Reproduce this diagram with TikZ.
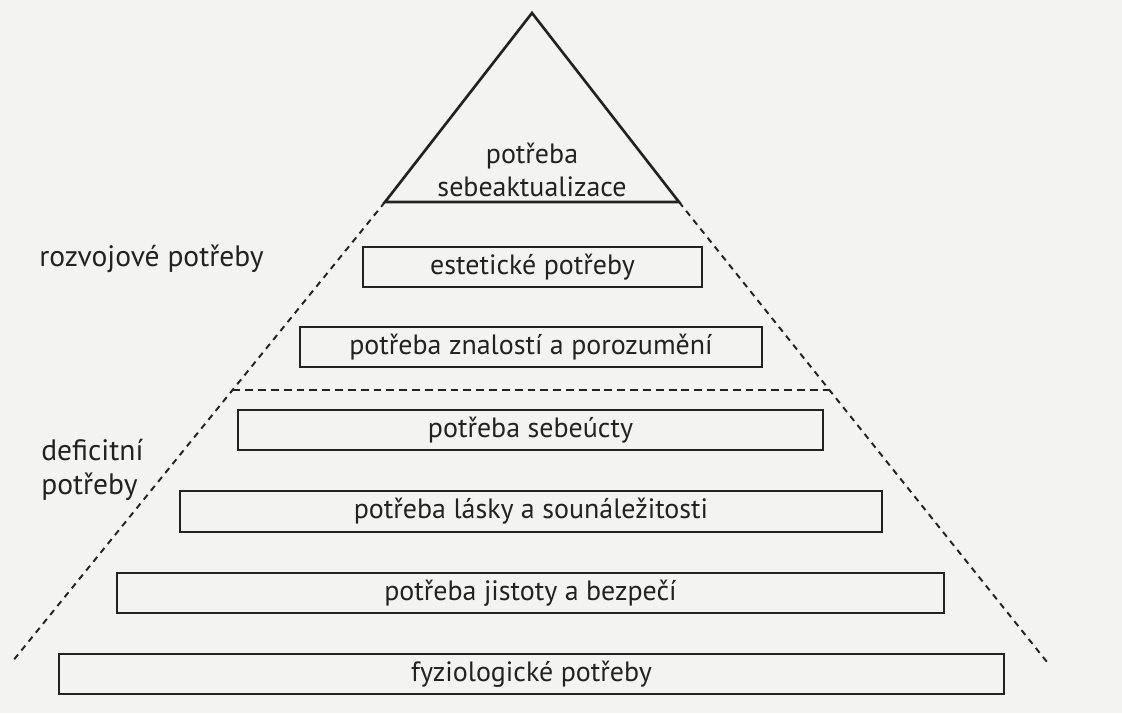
\documentclass[tikz,border=0pt]{standalone}
\usepackage{fontspec}
\setmainfont{PT Sans}
\usepackage{xcolor}
\usepackage{tikz}
\usetikzlibrary{calc}
\definecolor{paper}{HTML}{F3F3F1}
\definecolor{ink}{HTML}{222222}
\newcommand{\needfont}{\fontsize{15.9}{19}\selectfont}
\newcommand{\groupfont}{\fontsize{16.8}{19.4}\selectfont}

\begin{document}
\begin{tikzpicture}[
    need/.style={draw=ink, line width=1.2pt, minimum height=0.81cm, inner sep=0pt, font=\needfont, text=ink},
    group/.style={font=\groupfont, text=ink, align=left, inner sep=0pt},
    tri/.style={draw=ink, line width=1.5pt, line join=miter},
    split/.style={draw=ink, line width=1.1pt, dash pattern=on 3.5pt off 3pt},
    level/.style={draw=ink, line width=1.1pt, dash pattern=on 4.5pt off 2.8pt},
]
    % Page
    \fill[paper] (0,0) rectangle (22.44,14.26);
    \useasboundingbox (0,0) rectangle (22.44,14.26);

    % Top of the pyramid
    \coordinate (apex) at (10.64,14.0);
    \coordinate (bl) at (7.70,10.22);
    \coordinate (br) at (13.58,10.22);
    \draw[tri] (apex) -- (bl) -- (br) -- cycle;
    \node[group, font=\needfont, align=center] (selfact) at (10.64,10.86) {potřeba\\sebeaktualizace};

    % Needs
    \node[need, minimum width=6.78cm] (aesth) at (10.65,8.92) {estetické potřeby};
    \node[need, minimum width=9.24cm] (know) at (10.62,7.32) {potřeba znalostí a porozumění};
    \node[need, minimum width=11.7cm] (esteem) at (10.61,5.66) {potřeba sebeúcty};
    \node[need, minimum width=14.04cm] (love) at (10.62,4.03) {potřeba lásky a sounáležitosti};
    \node[need, minimum width=16.54cm] (safety) at (10.61,2.40) {potřeba jistoty a bezpečí};
    \node[need, minimum width=18.9cm] (physio) at (10.63,0.78) {fyziologické potřeby};

    % Sides and split
    \coordinate (dl) at (0.24,1.02);
    \coordinate (dr) at (20.94,1.02);
    \draw[split] (bl) -- (dl);
    \draw[split] (br) -- (dr);
    \coordinate (sl) at ($(bl)!0.409!(dl)$);
    \coordinate (sr) at ($(br)!0.409!(dr)$);
    \draw[level] (sl) -- (sr);

    % Groups
    \node[group, anchor=west] (growth) at (0.78,9.08) {rozvojové potřeby};
    \node[group, anchor=west] (deficit) at (0.82,4.86) {deficitní\\potřeby};
\end{tikzpicture}
\end{document}
